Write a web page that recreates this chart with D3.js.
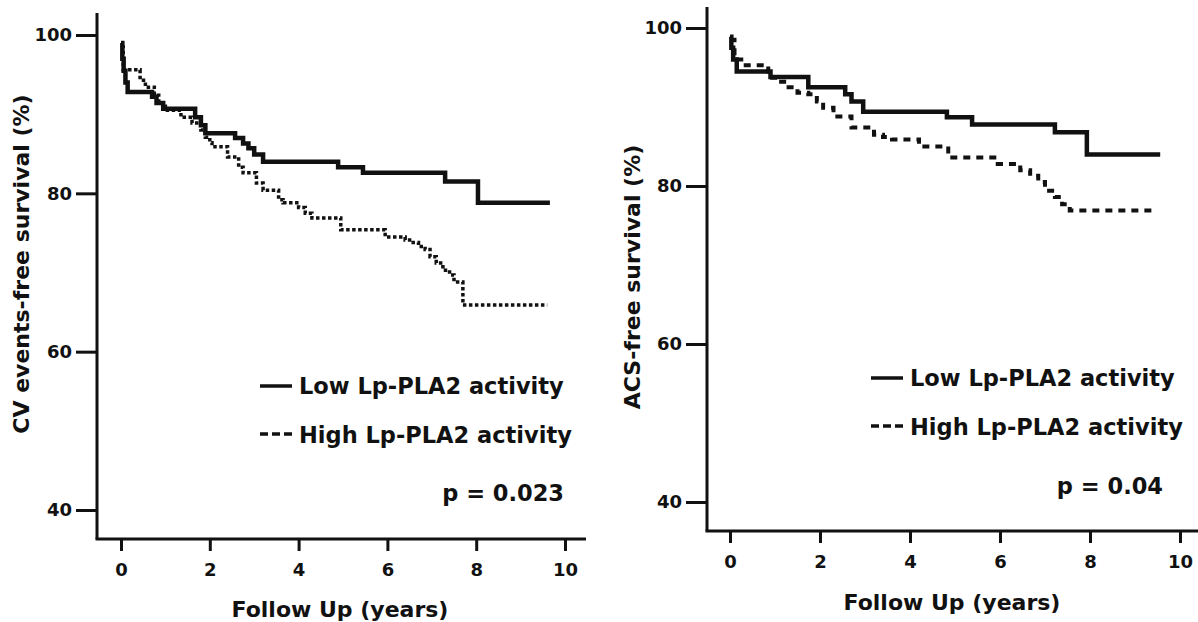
<!DOCTYPE html>
<html>
<head>
<meta charset="utf-8">
<script src="https://cdn.jsdelivr.net/npm/d3@7"></script>
<style>
  body { margin: 0; background: #fff; }
  text { font-family: "DejaVu Sans", sans-serif; font-weight: bold; fill: #111; }
</style>
</head>
<body>
<script>

// Kaplan-Meier steps: [years, survival %]
const lowCV = [
  [0, 99], [0.03, 97], [0.06, 95.5], [0.1, 94], [0.15, 92.8], [0.7, 92.2], [0.8, 91.4],
  [0.95, 90.7], [1.67, 89.6], [1.8, 88.6], [1.9, 87.6], [2.57, 87.0], [2.75, 86.3],
  [2.87, 85.7], [3.0, 84.9], [3.2, 84.0], [4.89, 83.3], [5.45, 82.6], [7.3, 81.5],
  [8.04, 78.8], [9.66, 78.8]
];
const highCV = [
  [0, 98.5], [0.05, 95.6], [0.43, 94.3], [0.55, 93.4], [0.75, 92.4], [0.85, 91.4],
  [1.0, 90.5], [1.35, 89.6], [1.6, 88.9], [1.8, 88.0], [1.9, 87.1], [2.0, 86.4],
  [2.05, 85.9], [2.4, 84.6], [2.65, 83.3], [2.75, 82.6], [3.05, 81.3], [3.2, 80.4],
  [3.55, 79.2], [3.65, 78.8], [4.0, 78.2], [4.15, 77.5], [4.3, 76.9], [4.95, 75.4],
  [5.95, 74.5], [6.4, 74.1], [6.5, 73.8], [6.7, 73.3], [6.85, 72.9], [6.96, 72.0],
  [7.1, 71.2], [7.25, 70.3], [7.4, 69.7], [7.5, 68.8], [7.7, 65.9], [9.6, 65.9]
];
const lowACS = [
  [0, 98.9], [0.03, 97.5], [0.07, 96], [0.15, 94.5], [0.9, 93.8], [1.74, 92.5],
  [2.56, 91.6], [2.7, 90.7], [2.96, 89.4], [4.82, 88.7], [5.38, 87.8], [7.22, 86.8],
  [7.93, 84.0], [9.56, 84.0]
];
const highACS = [
  [0, 98.5], [0.1, 96.0], [0.3, 95.3], [0.85, 93.7], [1.0, 93.2], [1.25, 92.5],
  [1.5, 91.8], [1.74, 91.6], [1.93, 90.7], [2.07, 89.9], [2.3, 88.8], [2.7, 87.4],
  [3.2, 86.5], [3.4, 86.2], [3.6, 85.9], [4.2, 85.0], [4.85, 83.6], [5.95, 82.8],
  [6.45, 82.0], [6.67, 81.3], [6.85, 80.5], [7.0, 79.4], [7.22, 78.6], [7.38, 77.7],
  [7.55, 76.9], [9.45, 76.9]
];

const xTicks = [0, 2, 4, 6, 8, 10];
const yTicks = [40, 60, 80, 100];
const legendLabels = ["Low Lp-PLA2 activity", "High Lp-PLA2 activity"];
const xTitle = "Follow Up (years)";

const w = 1198;
const h = 622;

const svg = d3.select("body")
              .append("svg")
              .attr("width", w)
              .attr("height", h);

// one panel = one KM plot
function drawPanel(p) {
  const x = d3.scaleLinear().domain([0, 10]).range([p.x0, p.x1]);
  const y = d3.scaleLinear().domain([40, 100]).range([p.y40, p.y100]);

  const g = svg.append("g");

  // axes lines (longer than the tick range, as in the figure)
  g.append("line")
   .attr("x1", p.axisX).attr("x2", p.axisX)
   .attr("y1", p.axisTop).attr("y2", p.axisY)
   .attr("stroke", "#111").attr("stroke-width", 3);
  g.append("line")
   .attr("x1", p.axisX - 1.5).attr("x2", p.axisRight)
   .attr("y1", p.axisY).attr("y2", p.axisY)
   .attr("stroke", "#111").attr("stroke-width", 3);

  const yAxis = d3.axisLeft(y).tickValues(yTicks).tickSize(21).tickPadding(4);
  const ya = g.append("g")
              .attr("transform", "translate(" + p.axisX + ",0)")
              .call(yAxis);
  ya.select(".domain").remove();
  ya.selectAll("line").attr("stroke", "#111").attr("stroke-width", 3);
  ya.selectAll("text").attr("font-size", 18).attr("font-family", "DejaVu Sans")
    .attr("font-weight", "bold").attr("fill", "#111");

  const xAxis = d3.axisBottom(x).tickValues(xTicks).tickSize(12).tickPadding(12);
  const xa = g.append("g")
              .attr("transform", "translate(0," + p.axisY + ")")
              .call(xAxis);
  xa.select(".domain").remove();
  xa.selectAll("line").attr("stroke", "#111").attr("stroke-width", 3);
  xa.selectAll("text").attr("font-size", 18).attr("font-family", "DejaVu Sans")
    .attr("font-weight", "bold").attr("fill", "#111");

  const line = d3.line()
                 .x((d) => x(d[0]))
                 .y((d) => y(d[1]))
                 .curve(d3.curveStepAfter);

  g.append("path")
   .attr("d", line(p.low))
   .attr("fill", "none")
   .attr("stroke", "#111")
   .attr("stroke-width", 4.5);

  g.append("path")
   .attr("d", line(p.high))
   .attr("fill", "none")
   .attr("stroke", "#111")
   .attr("stroke-width", p.dashW)
   .attr("stroke-dasharray", p.dash);

  // titles
  g.append("text")
   .attr("x", (p.x0 + p.x1) / 2 - 3)
   .attr("y", p.xTitleY)
   .attr("text-anchor", "middle")
   .attr("font-size", 22)
   .text(xTitle);

  g.append("text")
   .attr("transform", "translate(" + p.yTitleX + "," + p.yTitleY + ") rotate(-90)")
   .attr("text-anchor", "middle")
   .attr("dominant-baseline", "central")
   .attr("font-size", 22)
   .text(p.yTitle);

  // legend
  g.append("line")
   .attr("x1", p.legX).attr("x2", p.legX + 32)
   .attr("y1", p.legY).attr("y2", p.legY)
   .attr("stroke", "#111").attr("stroke-width", 3.5);
  g.append("line")
   .attr("x1", p.legX).attr("x2", p.legX + 32)
   .attr("y1", p.legY + 48).attr("y2", p.legY + 48)
   .attr("stroke", "#111").attr("stroke-width", 3.5)
   .attr("stroke-dasharray", "8,4");

  g.selectAll(".leg")
   .data(legendLabels)
   .enter()
   .append("text")
   .attr("x", p.legX + 39)
   .attr("y", (d, i) => p.legY + 8 + i * 49)
   .attr("font-size", 22.5)
   .text((d) => d);

  g.append("text")
   .attr("x", p.pX)
   .attr("y", p.pY)
   .attr("text-anchor", "end")
   .attr("font-size", 22.5)
   .text(p.pText);
}

drawPanel({
  x0: 121, x1: 565, y40: 510, y100: 35,
  axisX: 97, axisY: 539, axisTop: 13, axisRight: 586,
  low: lowCV, high: highCV, dash: "3.5,2.5", dashW: 3.5,
  xTitleY: 617, yTitleX: 21, yTitleY: 264,
  yTitle: "CV events-free survival (%)",
  legX: 260, legY: 386, pX: 564, pY: 501, pText: "p = 0.023"
});

drawPanel({
  x0: 730, x1: 1180, y40: 502, y100: 28,
  axisX: 707, axisY: 531, axisTop: 7, axisRight: 1198,
  low: lowACS, high: highACS, dash: "7,6", dashW: 4,
  xTitleY: 610, yTitleX: 632, yTitleY: 277,
  yTitle: "ACS-free survival (%)",
  legX: 871, legY: 378, pX: 1163, pY: 494, pText: "p = 0.04"
});

</script>
</body>
</html>
